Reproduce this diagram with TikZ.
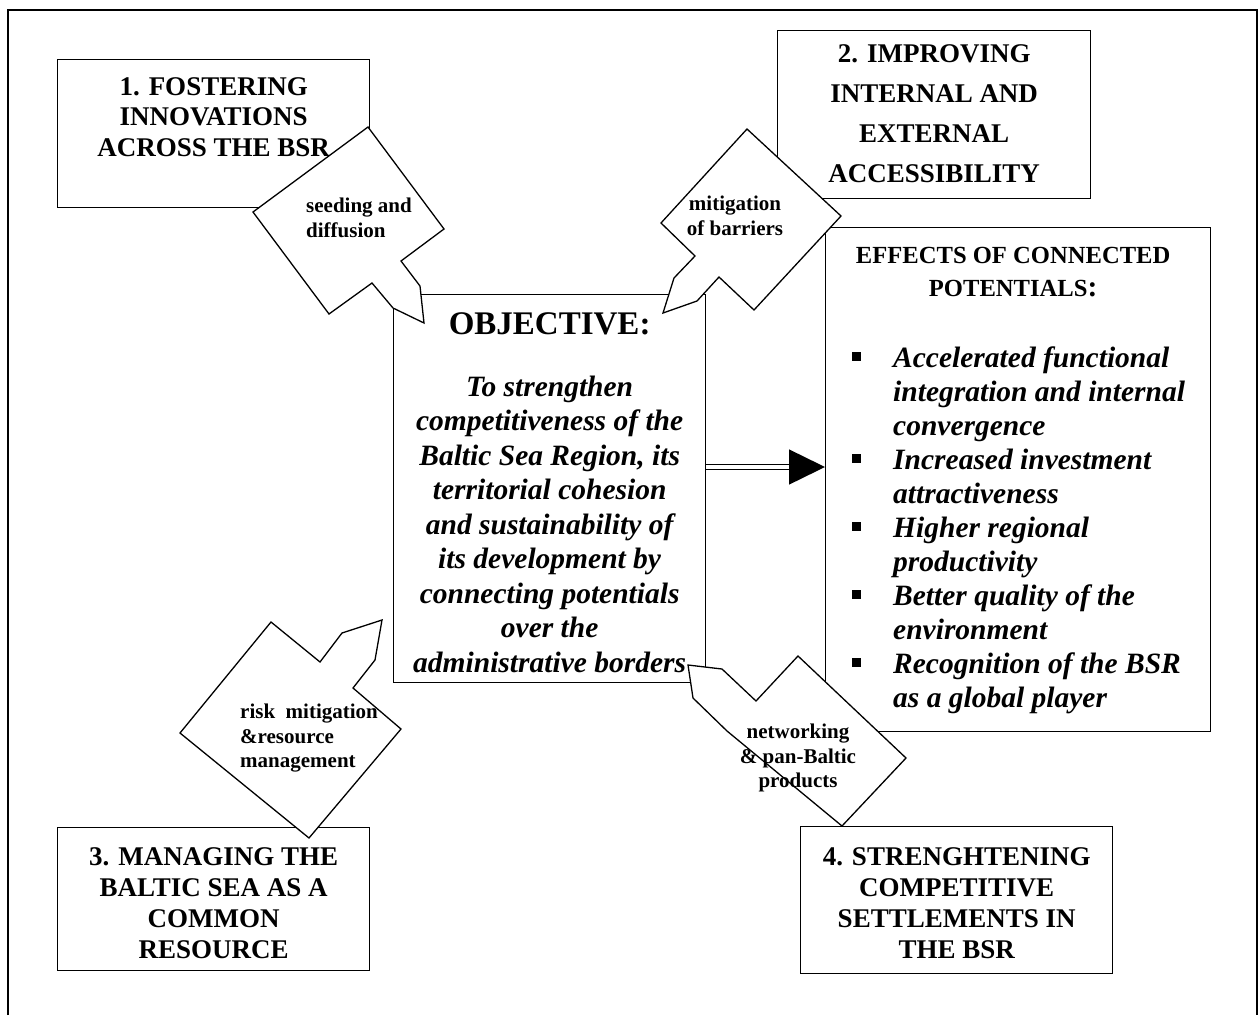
\documentclass[tikz,border=0pt]{standalone}
\usepackage{fontspec}
\setmainfont{Liberation Serif}
\usetikzlibrary{positioning,calc,arrows.meta}

\newcommand{\effbul}{\makebox[41pt][l]{\rule[7pt]{9pt}{9pt}}}
\newcommand{\effgap}{\hspace*{41pt}}

\tikzset{
	box/.style={draw, line width=1.3pt, anchor=north west, inner sep=0pt},
	title/.style={inner sep=0pt, align=center, font=\bfseries\fontsize{27}{31}\selectfont},
	callout/.style={draw, line width=1.3pt, fill=white, line join=miter},
	tag/.style={inner sep=0pt, font=\bfseries\fontsize{21}{24.5}\selectfont}
}

\begin{document}
\begin{tikzpicture}[x=1pt, y=-1pt]
		\useasboundingbox (0,0) rectangle (1258,1015);
		\draw[line width=1.5pt] (8,1015) -- (8,10) -- (1257,10) -- (1257,1015);

		% the four priorities
		\node[box, minimum width=312, minimum height=148] (inno) at (57,59) {};
		\node[title, below=18pt of inno.north, font=\bfseries\fontsize{27}{30.5}\selectfont] (innotext) {1. FOSTERING\\INNOVATIONS\\ACROSS THE BSR};
		\node[box, minimum width=313, minimum height=168] (access) at (777,30) {};
		\node[title, below=14pt of access.north, font=\bfseries\fontsize{27}{40}\selectfont] (accesstext) {2. IMPROVING\\INTERNAL AND\\EXTERNAL\\ACCESSIBILITY};
		\node[box, minimum width=312, minimum height=143] (sea) at (57,827) {};
		\node[title, below=20pt of sea.north] (seatext) {3. MANAGING THE\\BALTIC SEA AS A\\COMMON\\RESOURCE};
		\node[box, minimum width=312, minimum height=147] (settle) at (800,826) {};
		\node[title, below=21pt of settle.north] (settletext) {4. STRENGHTENING\\COMPETITIVE\\SETTLEMENTS IN\\THE BSR};

		% objective and effects
		\node[box, minimum width=312, minimum height=388] (objective) at (393,294) {};
		\node[anchor=north, inner sep=0pt, font=\bfseries\fontsize{33}{36}\selectfont] (objtitle) at ($(objective.north)+(0,18)$) {OBJECTIVE:};
		\node[below=41pt of objtitle, inner sep=0pt, align=center, font=\bfseries\itshape\fontsize{29.5}{34.5}\selectfont] (objtext)
			{To strengthen\\competitiveness of the\\Baltic Sea Region, its\\territorial cohesion\\and sustainability of\\its development by\\connecting potentials\\over the\\administrative borders};

		\node[box, minimum width=385, minimum height=504] (effects) at (825,227) {};
		\node[anchor=north, inner sep=0pt, align=center, font=\bfseries\fontsize{24.6}{33}\selectfont] (effhead) at ($(effects.north)+(-5,20)$)
			{EFFECTS OF CONNECTED\\POTENTIALS{\fontsize{29.5}{33}\selectfont:}};
		\node[anchor=north west, inner sep=0pt, align=left, font=\bfseries\itshape\fontsize{29.5}{34}\selectfont] (efflist) at (852,347)
			{\effbul Accelerated functional\\\effgap integration and internal\\\effgap convergence\\
			\effbul Increased investment\\\effgap attractiveness\\
			\effbul Higher regional\\\effgap productivity\\
			\effbul Better quality of the\\\effgap environment\\
			\effbul Recognition of the BSR\\\effgap as a global player};

		\draw[double, double distance=4pt, line width=1.4pt, -{Triangle[length=36pt, width=35pt]}] (objective.east |- 0,467) -- (effects.west |- 0,467);

		% callouts
		\draw[callout] (253,212) -- (329,314) -- (372,283) -- (393,308) -- (424,323) -- (420,286) -- (401,261) -- (444,229) -- (368,127) -- cycle;
		\node[tag, anchor=north west, align=left] (seeding) at (306,198) {seeding and\\diffusion};

		\draw[callout] (661,223) -- (747,129) -- (841,216) -- (754,310) -- (719,277) -- (697,301) -- (663,313) -- (674,278) -- (695,256) -- cycle;
		\node[tag, anchor=north, align=center] (barriers) at (735,196) {mitigation\\of barriers};

		\draw[callout] (180,733) -- (271,622) -- (320,662) -- (342,633) -- (382,620) -- (375,660) -- (353,688) -- (401,729) -- (309,838) -- cycle;
		\node[tag, anchor=north west, align=left] (risk) at (240,704) {risk~~mitigation\\\&resource\\management};

		\draw[callout] (798,656) -- (906,758) -- (842,826) -- (727,731) -- (693,698) -- (688,665) -- (722,669) -- (756,701) -- cycle;
		\node[tag, anchor=north, align=center] (network) at (798,724) {networking\\\& pan-Baltic\\products};
	\end{tikzpicture}
\end{document}
